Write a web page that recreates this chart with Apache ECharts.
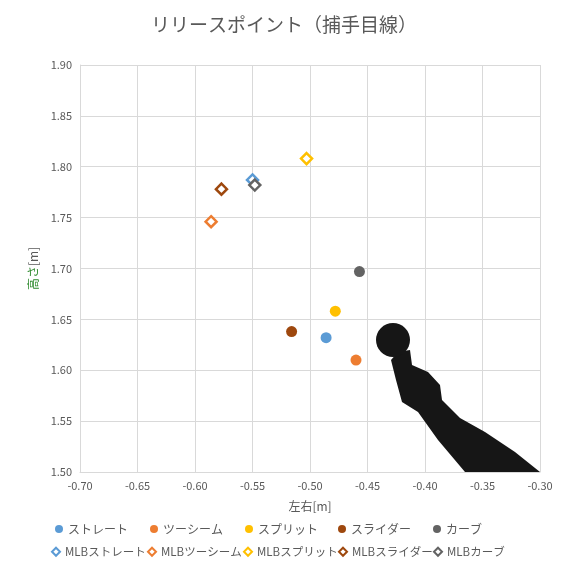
<!DOCTYPE html>
<html><head><meta charset="utf-8">
<script src="https://cdn.jsdelivr.net/npm/echarts@6/dist/echarts.min.js"></script>
<style>html,body{margin:0;background:#fff}#c{width:568px;height:567px}</style>
</head><body><div id="c"></div>
<script>
var names = ['ストレート', 'ツーシーム', 'スプリット', 'スライダー', 'カーブ'];
var colors = ['#5b9bd5', '#ed7d31', '#ffc000', '#9e480e', '#636363'];
var npbX = [-0.486, -0.460, -0.478, -0.516, -0.457];
var npbY = [1.632, 1.610, 1.658, 1.638, 1.697];
var mlbX = [-0.550, -0.586, -0.503, -0.577, -0.548];
var mlbY = [1.787, 1.746, 1.808, 1.778, 1.782];

var series = [], legends = [];
var lx = [50, 145, 240, 333, 428];
var lx2 = [46, 142, 238, 333, 428];
names.forEach(function (n, i) {
  series.push({ name: n, type: 'scatter', symbol: 'circle', symbolSize: 11,
    itemStyle: { color: colors[i], opacity: 1 }, data: [[npbX[i], npbY[i]]], z: 3 });
  series.push({ name: 'MLB' + n, type: 'scatter', symbol: 'diamond', symbolSize: 11,
    itemStyle: { color: '#fff', borderColor: colors[i], borderWidth: 2.5, opacity: 1 }, data: [[mlbX[i], mlbY[i]]], z: 3 });
  legends.push({ data: [{ name: n, icon: 'circle' }], left: lx[i], top: 518, itemWidth: 8, itemHeight: 8, itemGap: 4,
    textStyle: { color: '#595959', fontSize: 12 } });
  legends.push({ data: [{ name: 'MLB' + n, icon: 'diamond', itemStyle: { color: '#fff', borderColor: colors[i], borderWidth: 2 } }],
    left: lx2[i], top: 541, itemWidth: 8, itemHeight: 8, itemGap: 2, textStyle: { color: '#595959', fontSize: 11.5 } });
});

var chart = echarts.init(document.getElementById('c'));
chart.setOption({
  backgroundColor: '#fff',
  textStyle: { fontFamily: 'Noto Sans CJK JP' },
  title: { text: 'リリースポイント（捕手目線）', left: 'center', top: 10,
    textStyle: { color: '#595959', fontSize: 19, fontWeight: 'normal' } },
  legend: legends,
  grid: { left: 80, right: 28, top: 65, bottom: 95 },
  xAxis: { type: 'value', min: -0.7, max: -0.3, interval: 0.05,
    name: '左右[m]', nameLocation: 'middle', nameGap: 28, nameTextStyle: { color: '#595959', fontSize: 12 },
    axisLabel: { color: '#595959', fontSize: 11, formatter: function (v) { return v.toFixed(2); } },
    axisLine: { lineStyle: { color: '#d9d9d9' } }, axisTick: { show: false },
    splitLine: { lineStyle: { color: '#d9d9d9' } } },
  yAxis: { type: 'value', min: 1.5, max: 1.9, interval: 0.05,
    name: '{g|高さ}[m]', nameLocation: 'middle', nameGap: 40, nameRotate: 90,
    nameTextStyle: { color: '#595959', fontSize: 12, rich: { g: { color: '#2e8b2e', fontSize: 12 } } },
    axisLabel: { color: '#595959', fontSize: 11, formatter: function (v) { return v.toFixed(2); } },
    axisLine: { show: true, lineStyle: { color: '#d9d9d9' } }, axisTick: { show: false },
    splitLine: { lineStyle: { color: '#d9d9d9' } } },
  graphic: [
    { type: 'polygon', z: 10, shape: { points: [[398, 352], [410, 350], [412, 365], [428, 372], [440, 385], [442, 400], [460, 418], [485, 432], [515, 452], [540, 472], [465, 472], [438, 440], [418, 412], [402, 402], [396, 380], [391, 360]] },
      style: { fill: '#161616' } },
    { type: 'circle', z: 11, shape: { cx: 393, cy: 340, r: 17 }, style: { fill: '#161616' } }
  ],
  series: series
});
</script></body></html>
